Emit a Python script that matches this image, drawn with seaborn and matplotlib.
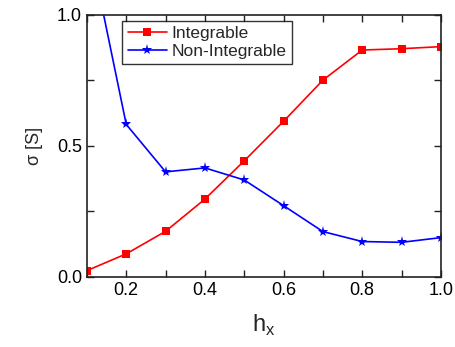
import numpy as np
import pandas as pd
import matplotlib
matplotlib.use("Agg")
import matplotlib.pyplot as plt
import seaborn as sns
from matplotlib.ticker import MultipleLocator

# --- data ---
hx = [0.1, 0.2, 0.3, 0.4, 0.5, 0.6, 0.7, 0.8, 0.9, 1.0]
integrable = [0.024, 0.088, 0.174, 0.297, 0.443, 0.594, 0.751, 0.866, 0.871, 0.879]
non_integrable = [1.31, 0.582, 0.401, 0.416, 0.370, 0.272, 0.173, 0.135, 0.132, 0.150]

sns.set_style("ticks")
plt.rcParams["font.family"] = ["Liberation Sans", "DejaVu Sans"]

fig = plt.figure(figsize=(4.55, 3.47), dpi=100)
ax = fig.add_axes([0.191, 0.202, 0.778, 0.755])

sns.lineplot(x=hx, y=integrable, ax=ax, color="#ff0000", marker="s",
             markersize=5.3, markeredgewidth=0, linewidth=1.2, label="Integrable")
sns.lineplot(x=hx, y=non_integrable, ax=ax, color="#0000ff", marker="*",
             markersize=8, markeredgewidth=0, linewidth=1.2, label="Non-Integrable")

ax.set_xlim(0.1, 1.0)
ax.set_ylim(0.0, 1.0)
ax.xaxis.set_minor_locator(MultipleLocator(0.1))
ax.yaxis.set_major_locator(MultipleLocator(0.5))
ax.yaxis.set_minor_locator(MultipleLocator(0.25))
ax.set_xticks([0.2, 0.4, 0.6, 0.8, 1.0])
ax.tick_params(which="both", direction="in", top=True, right=True,
               labelsize=13, width=1, color="#222222", labelcolor="black")
ax.tick_params(which="both", length=5)
for s in ax.spines.values():
    s.set_linewidth(1.2)
    s.set_color("#222222")

ax.set_xlabel("h$_\\mathregular{x}$", fontsize=17, labelpad=10)
ax.set_ylabel("σ [S]", fontsize=13, labelpad=10)

leg = ax.legend(loc="upper left", bbox_to_anchor=(0.1, 0.977), fontsize=12.5,
                frameon=True, fancybox=False, edgecolor="black",
                handlelength=2.3, borderpad=0.3, labelspacing=0.15,
                handletextpad=0.25, borderaxespad=0.0)
leg.get_frame().set_linewidth(1.0)

fig.savefig("out.png", dpi=100)
